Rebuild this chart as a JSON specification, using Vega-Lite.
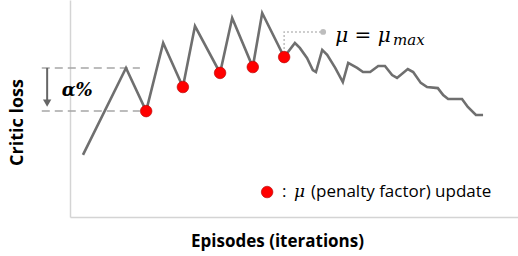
{
  "$schema": "https://vega.github.io/schema/vega-lite/v6.json",
  "autosize": "none",
  "width": 448,
  "height": 217,
  "padding": {"left": 70, "top": 0, "right": 0, "bottom": 39},
  "background": "white",
  "config": {
    "view": {"stroke": null},
    "axis": {"grid": false, "ticks": false, "labels": false, "domainColor": "#d4d4d4", "domainWidth": 1.5,
      "titleFont": "Open Sans", "titleFontWeight": "bold", "titleColor": "#000000", "titleFontSize": 17}
  },
  "datasets": {
    "curve": [
      {"ep": 2.9, "loss": 28.6}, {"ep": 12.5, "loss": 68.7}, {"ep": 17.0, "loss": 48.8},
      {"ep": 20.8, "loss": 80.2}, {"ep": 25.2, "loss": 59.9}, {"ep": 27.9, "loss": 88.0},
      {"ep": 33.5, "loss": 66.4}, {"ep": 36.2, "loss": 91.7}, {"ep": 40.8, "loss": 69.1},
      {"ep": 42.9, "loss": 94.0}, {"ep": 47.8, "loss": 73.7}, {"ep": 50.2, "loss": 80.2},
      {"ep": 51.3, "loss": 77.9}, {"ep": 52.9, "loss": 73.3}, {"ep": 54.2, "loss": 67.7},
      {"ep": 54.9, "loss": 66.8}, {"ep": 56.3, "loss": 77.0}, {"ep": 57.4, "loss": 74.7},
      {"ep": 59.2, "loss": 68.7}, {"ep": 60.9, "loss": 62.2}, {"ep": 62.1, "loss": 71.0},
      {"ep": 64.1, "loss": 68.7}, {"ep": 65.4, "loss": 66.8}, {"ep": 67.0, "loss": 66.8},
      {"ep": 68.8, "loss": 69.6}, {"ep": 70.3, "loss": 69.6}, {"ep": 71.9, "loss": 65.4},
      {"ep": 73.0, "loss": 64.1}, {"ep": 75.4, "loss": 68.2}, {"ep": 76.6, "loss": 66.8},
      {"ep": 78.3, "loss": 61.8}, {"ep": 79.7, "loss": 59.9}, {"ep": 82.1, "loss": 59.4},
      {"ep": 83.3, "loss": 56.2}, {"ep": 84.4, "loss": 54.4}, {"ep": 87.5, "loss": 54.4},
      {"ep": 88.8, "loss": 50.7}, {"ep": 90.6, "loss": 47.0}, {"ep": 92.2, "loss": 47.0}
    ],
    "updates": [
      {"ep": 17.0, "loss": 48.8}, {"ep": 25.2, "loss": 59.9}, {"ep": 33.5, "loss": 66.4},
      {"ep": 40.8, "loss": 69.1}, {"ep": 47.8, "loss": 73.7}, {"ep": 44.0, "loss": 11.5}
    ],
    "dashes": [
      {"x1": -6.3, "x2": 15.6, "y": 68.7},
      {"x1": -6.3, "x2": 15.6, "y": 48.8}
    ],
    "mupath": [
      {"i": 0, "ep": 47.8, "loss": 73.7}, {"i": 1, "ep": 47.8, "loss": 85.3}, {"i": 2, "ep": 56.5, "loss": 85.3}
    ]
  },
  "layer": [
    {
      "data": {"name": "dashes"},
      "mark": {"type": "rule", "color": "#a6a6a6", "strokeWidth": 1.5, "strokeDash": [8, 5]},
      "encoding": {
        "x": {"field": "x1", "type": "quantitative", "scale": {"domain": [0, 100], "nice": false, "zero": false},
          "axis": {"title": "Episodes (iterations)", "titleX": 207, "titleY": 24, "titleBaseline": "middle"}},
        "x2": {"field": "x2"},
        "y": {"field": "y", "type": "quantitative", "scale": {"domain": [0, 100], "nice": false, "zero": false},
          "axis": {"title": "Critic loss", "titleX": -53, "titleY": 122, "titleBaseline": "middle", "titleAngle": -90, "titleFontSize": 18}}
      }
    },
    {
      "data": {"values": [{"ep": -5.1, "a": 68.7, "b": 53.0}]},
      "mark": {"type": "rule", "color": "#666666", "strokeWidth": 2},
      "encoding": {
        "x": {"field": "ep", "type": "quantitative"},
        "y": {"field": "a", "type": "quantitative"},
        "y2": {"field": "b"}
      }
    },
    {
      "data": {"values": [{"ep": -5.1, "loss": 52.5}]},
      "mark": {"type": "point", "shape": "triangle-down", "filled": true, "color": "#666666", "size": 70, "opacity": 1},
      "encoding": {
        "x": {"field": "ep", "type": "quantitative"},
        "y": {"field": "loss", "type": "quantitative"}
      }
    },
    {
      "data": {"name": "curve"},
      "mark": {"type": "line", "color": "#6f6f6f", "strokeWidth": 2.6, "strokeJoin": "miter"},
      "encoding": {
        "x": {"field": "ep", "type": "quantitative"},
        "y": {"field": "loss", "type": "quantitative"}
      }
    },
    {
      "data": {"name": "mupath"},
      "mark": {"type": "line", "color": "#bdbdbd", "strokeWidth": 1.5, "strokeDash": [2, 2]},
      "encoding": {
        "x": {"field": "ep", "type": "quantitative"},
        "y": {"field": "loss", "type": "quantitative"},
        "order": {"field": "i", "type": "quantitative"}
      }
    },
    {
      "data": {"values": [{"ep": 56.5, "loss": 85.3}]},
      "mark": {"type": "point", "filled": true, "color": "#bdbdbd", "size": 35, "opacity": 1},
      "encoding": {
        "x": {"field": "ep", "type": "quantitative"},
        "y": {"field": "loss", "type": "quantitative"}
      }
    },
    {
      "data": {"name": "updates"},
      "mark": {"type": "point", "filled": true, "fill": "#ff0000", "stroke": "#b00000", "strokeWidth": 0.6, "size": 135, "opacity": 1},
      "encoding": {
        "x": {"field": "ep", "type": "quantitative"},
        "y": {"field": "loss", "type": "quantitative"}
      }
    },
    {
      "data": {"values": [{"ep": 1.6, "loss": 58.1, "t": "α%"}]},
      "mark": {"type": "text", "font": "DejaVu Serif", "fontStyle": "italic", "fontWeight": "bold", "fontSize": 18, "align": "center", "baseline": "middle", "color": "#000000"},
      "encoding": {
        "x": {"field": "ep", "type": "quantitative"},
        "y": {"field": "loss", "type": "quantitative"},
        "text": {"field": "t"}
      }
    },
    {
      "data": {"values": [{"ep": 59.2, "loss": 80.6, "t": "μ = μ"}]},
      "mark": {"type": "text", "font": "DejaVu Serif", "fontStyle": "italic", "fontSize": 20, "align": "left", "baseline": "alphabetic", "color": "#000000"},
      "encoding": {
        "x": {"field": "ep", "type": "quantitative"},
        "y": {"field": "loss", "type": "quantitative"},
        "text": {"field": "t"}
      }
    },
    {
      "data": {"values": [{"ep": 72.1, "loss": 79.3, "t": "max"}]},
      "mark": {"type": "text", "font": "DejaVu Serif", "fontStyle": "italic", "fontSize": 15, "align": "left", "baseline": "alphabetic", "color": "#000000"},
      "encoding": {
        "x": {"field": "ep", "type": "quantitative"},
        "y": {"field": "loss", "type": "quantitative"},
        "text": {"field": "t"}
      }
    },
    {
      "data": {"values": [{"ep": 47.3, "loss": 11.5, "t": ":"}, {"ep": 53.8, "loss": 11.5, "t": "(penalty factor) update"}]},
      "mark": {"type": "text", "font": "Open Sans", "fontSize": 17, "align": "left", "baseline": "middle", "color": "#000000"},
      "encoding": {
        "x": {"field": "ep", "type": "quantitative"},
        "y": {"field": "loss", "type": "quantitative"},
        "text": {"field": "t"}
      }
    },
    {
      "data": {"values": [{"ep": 50.0, "loss": 11.5, "t": "μ"}]},
      "mark": {"type": "text", "font": "DejaVu Serif", "fontStyle": "italic", "fontSize": 17, "align": "left", "baseline": "middle", "color": "#000000"},
      "encoding": {
        "x": {"field": "ep", "type": "quantitative"},
        "y": {"field": "loss", "type": "quantitative"},
        "text": {"field": "t"}
      }
    }
  ]
}
